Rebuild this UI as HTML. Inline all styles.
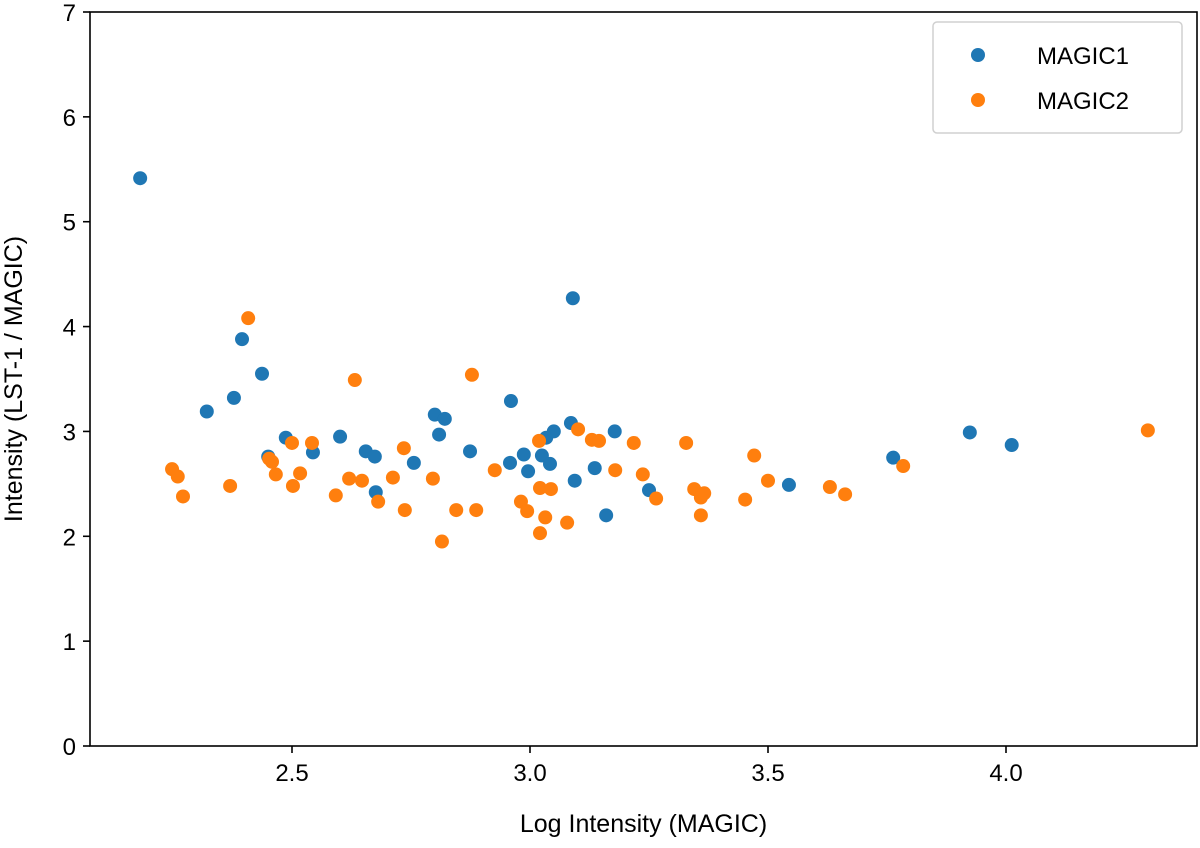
<!DOCTYPE html>
<html><head><meta charset="utf-8"><style>
body{margin:0;background:#fff;}
svg{display:block;font-family:"Liberation Sans","DejaVu Sans",sans-serif;}
</style></head><body>
<svg id="chart" width="1200" height="848"></svg>
<script>
const m1x=[2.181,2.321,2.378,2.395,2.437,2.450,2.487,2.544,2.601,2.655,2.674,2.676,2.756,2.800,2.809,2.821,2.874,2.960,2.958,2.987,2.996,3.025,3.034,3.042,3.050,3.086,3.090,3.094,3.136,3.160,3.178,3.250,3.544,3.763,3.924,4.012];
const m1y=[5.415,3.19,3.32,3.88,3.55,2.76,2.94,2.80,2.95,2.81,2.76,2.42,2.70,3.16,2.97,3.12,2.81,3.29,2.70,2.78,2.62,2.77,2.94,2.69,3.00,3.08,4.27,2.53,2.65,2.20,3.00,2.44,2.49,2.75,2.99,2.87];
const m2x=[2.248,2.260,2.271,2.370,2.408,2.452,2.458,2.466,2.500,2.502,2.517,2.542,2.592,2.620,2.632,2.647,2.681,2.712,2.735,2.737,2.796,2.815,2.845,2.878,2.887,2.926,2.981,2.994,3.019,3.021,3.021,3.032,3.044,3.078,3.101,3.130,3.145,3.179,3.218,3.237,3.265,3.328,3.345,3.359,3.359,3.366,3.452,3.471,3.500,3.630,3.662,3.784,4.298];
const m2y=[2.64,2.57,2.38,2.48,4.08,2.74,2.71,2.59,2.89,2.48,2.60,2.89,2.39,2.55,3.49,2.53,2.33,2.56,2.84,2.25,2.55,1.95,2.25,3.54,2.25,2.63,2.33,2.24,2.91,2.03,2.46,2.18,2.45,2.13,3.02,2.92,2.91,2.63,2.89,2.59,2.36,2.89,2.45,2.37,2.20,2.41,2.35,2.77,2.53,2.47,2.40,2.67,3.01];
const xTicks=[2.5,3.0,3.5,4.0];
const xTickLabels=["2.5","3.0","3.5","4.0"];
const yTicks=[0,1,2,3,4,5,6,7];
const yTickLabels=["0","1","2","3","4","5","6","7"];

const L=90,R=1197,T=12,B=746;
const sx=v=>292+(v-2.5)*476;
const sy=v=>B-v*(B-T)/7;
const svg=document.getElementById('chart');
const NS='http://www.w3.org/2000/svg';
function mk(tag,attrs,parent){const e=document.createElementNS(NS,tag);for(const k in attrs)e.setAttribute(k,attrs[k]);(parent||svg).appendChild(e);return e;}

const pts=mk('g',{});


m1x.forEach((x,i)=>{const c=mk('circle',{cx:sx(x),cy:sy(m1y[i]),r:7,fill:'#1f77b4'},pts);

});
m2x.forEach((x,i)=>{const c=mk('circle',{cx:sx(x),cy:sy(m2y[i]),r:7,fill:'#ff7f0e'},pts);

});

const frame=mk('rect',{x:L,y:T,width:R-L,height:B-T,fill:'none',stroke:'#000','stroke-width':1.6});



xTicks.forEach((v,i)=>{const x=sx(v);mk('line',{x1:x,x2:x,y1:B,y2:B+7,stroke:'#000','stroke-width':1.6});
const t=mk('text',{x:x,y:B+35,'font-size':24,'text-anchor':'middle',fill:'#000'});t.textContent=xTickLabels[i];

});
yTicks.forEach((v,i)=>{const y=sy(v);mk('line',{x1:L-7,x2:L,y1:y,y2:y,stroke:'#000','stroke-width':1.6});
const t=mk('text',{x:L-14,y:y+9,'font-size':24,'text-anchor':'end',fill:'#000'});t.textContent=yTickLabels[i];

});

const xl=mk('text',{x:(L+R)/2,y:832,'font-size':25,'text-anchor':'middle',fill:'#000'});xl.textContent='Log Intensity (MAGIC)';


const yl=mk('text',{x:0,y:0,'font-size':25,'text-anchor':'middle',fill:'#000',transform:'translate(22,'+((T+B)/2)+') rotate(-90)'});yl.textContent='Intensity (LST-1 / MAGIC)';



const lg=mk('g',{});


mk('rect',{x:933,y:22,width:249,height:111,rx:4,fill:'#fff',stroke:'#d0d0d0','stroke-width':1.5},lg);
[['MAGIC1','#1f77b4',55],['MAGIC2','#ff7f0e',100]].forEach(([n,c,y])=>{
const g=mk('g',{},lg);


mk('circle',{cx:978,cy:y,r:7,fill:c},g);
const t=mk('text',{x:1037,y:y+9,'font-size':24,fill:'#000'},g);t.textContent=n;});
</script>
</body></html>
